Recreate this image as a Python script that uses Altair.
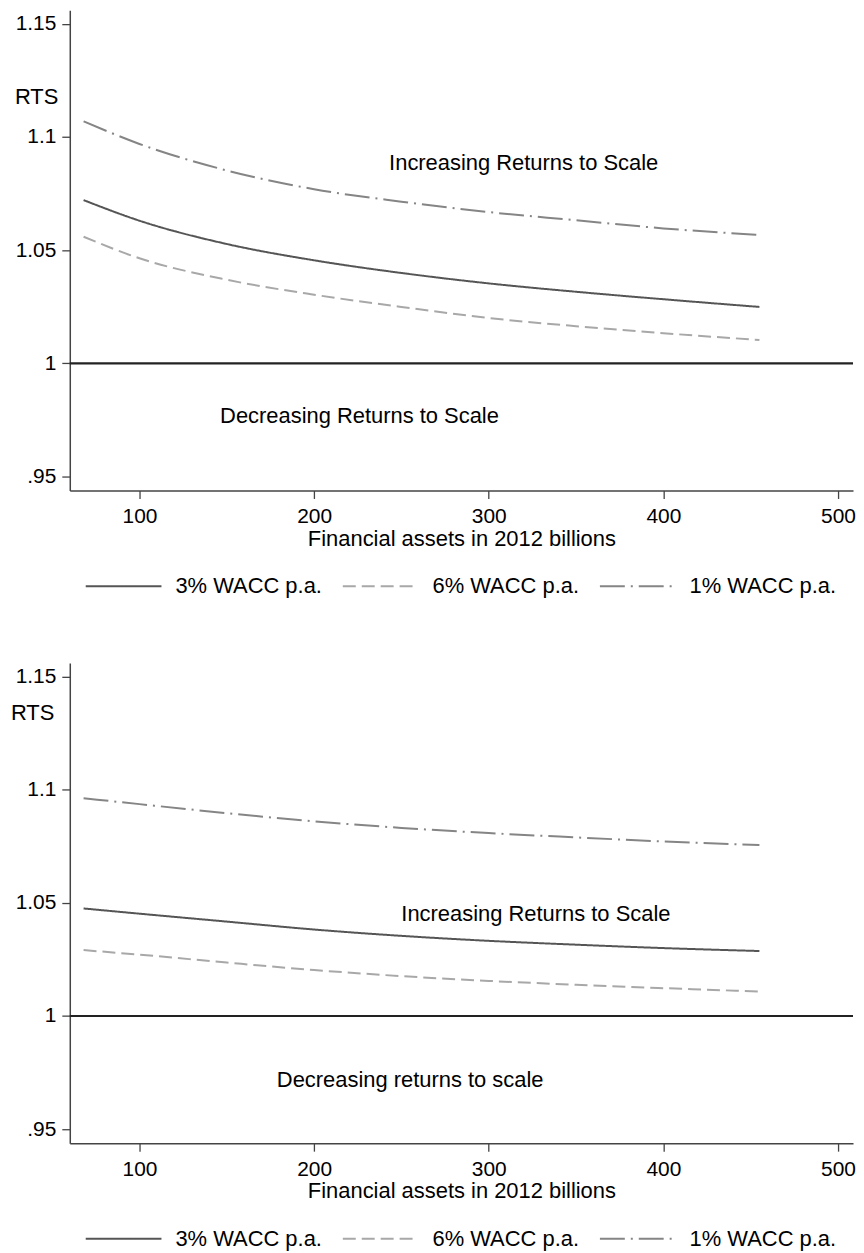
import pandas as pd
import altair as alt

# financial assets (2012 billions) where the curves were read
assets = [68, 100, 150, 200, 250, 300, 350, 400, 455]

# returns to scale, top panel
rts_3_top = [1.0721, 1.0630, 1.0527, 1.0455, 1.0399, 1.0353, 1.0316, 1.0283, 1.0249]
rts_6_top = [1.0559, 1.0464, 1.0369, 1.0303, 1.0249, 1.0200, 1.0164, 1.0133, 1.0103]
rts_1_top = [1.1069, 1.0969, 1.0852, 1.0769, 1.0714, 1.0668, 1.0632, 1.0596, 1.0567]

# returns to scale, bottom panel
rts_3_bot = [1.0475, 1.0452, 1.0417, 1.0382, 1.0354, 1.0332, 1.0315, 1.0300, 1.0287]
rts_6_bot = [1.0291, 1.0271, 1.0236, 1.0203, 1.0176, 1.0155, 1.0138, 1.0123, 1.0108]
rts_1_bot = [1.0962, 1.0936, 1.0896, 1.0860, 1.0831, 1.0808, 1.0789, 1.0771, 1.0755]

series = ["3% WACC p.a.", "6% WACC p.a.", "1% WACC p.a."]
x_ticks = [100, 200, 300, 400, 500]
y_ticks = [0.95, 1.0, 1.05, 1.1, 1.15]

# annotation texts and where they sit (data units)
notes_top = ["Increasing Returns to Scale", "Decreasing Returns to Scale"]
notes_top_x = [320, 226]
notes_top_y = [1.0885, 0.9768]
notes_bot = ["Increasing Returns to Scale", "Decreasing returns to scale"]
notes_bot_x = [327, 255]
notes_bot_y = [1.0449, 0.9717]

FONT = "Liberation Sans"
colors = ["#555555", "#a8a8a8", "#858585"]
dashes = [[1, 0], [13, 6], [25, 6, 2, 6]]


def panel(r3, r6, r1, note_text, note_x, note_y, rts_y, rts_x):
    df = pd.concat([
        pd.DataFrame({"assets": assets, "rts": vals, "series": name})
        for name, vals in zip(series, [r3, r6, r1])
    ])

    x = alt.X("assets:Q", scale=alt.Scale(domain=[60.1, 508.6], nice=False, zero=False),
              axis=alt.Axis(values=x_ticks, title="Financial assets in 2012 billions"))
    y = alt.Y("rts:Q", scale=alt.Scale(domain=[0.9438, 1.156], nice=False, zero=False),
              axis=alt.Axis(values=y_ticks, title="RTS", titleAngle=0, titleAlign="right",
                            titleBaseline="middle", titleX=rts_x, titleY=rts_y,
                            labelExpr="datum.value < 1 ? substring(format(datum.value, '.2f'), 1) : format(datum.value, '~g')"))

    lines = alt.Chart(df).mark_line(strokeWidth=2, interpolate="monotone").encode(
        x=x,
        y=y,
        color=alt.Color("series:N", scale=alt.Scale(domain=series, range=colors),
                        sort=series, legend=alt.Legend(title=None)),
        strokeDash=alt.StrokeDash("series:N", scale=alt.Scale(domain=series, range=dashes),
                                  sort=series, legend=alt.Legend(title=None)),
    )

    ref = alt.Chart(pd.DataFrame({"rts": [1.0]})).mark_rule(color="#222222", strokeWidth=2.2).encode(
        y="rts:Q"
    )

    notes = alt.Chart(pd.DataFrame({"assets": note_x, "rts": note_y, "label": note_text})).mark_text(
        font=FONT, fontSize=22, color="#000000", align="center", baseline="middle"
    ).encode(x="assets:Q", y="rts:Q", text="label:N")

    return (ref + lines + notes).properties(width=786, height=482)


top = panel(rts_3_top, rts_6_top, rts_1_top, notes_top, notes_top_x, notes_top_y, 87, -12)
bottom = panel(rts_3_bot, rts_6_bot, rts_1_bot, notes_bot, notes_bot_x, notes_bot_y, 50, -16)

chart = alt.vconcat(top, bottom, spacing=173, bounds="flush").resolve_legend(
    color="independent", strokeDash="independent"
).properties(
    padding={"left": 2, "top": 0, "right": 0, "bottom": 0}
).configure_view(
    stroke=None
).configure_axis(
    grid=False,
    domainColor="#444444",
    domainWidth=1.5,
    tickColor="#444444",
    tickWidth=1.3,
    tickSize=8,
    labelFont=FONT,
    labelFontSize=21,
    labelColor="#000000",
    labelPadding=6,
    titleFont=FONT,
    titleFontSize=22,
    titleFontWeight="normal",
    titleColor="#000000",
).configure_axisX(
    labelPadding=7,
    titlePadding=2,
).configure_legend(
    orient="none",
    legendX=15,
    legendY=539,
    direction="horizontal",
    columns=3,
    symbolType="stroke",
    symbolSize=5776,
    symbolStrokeWidth=2,
    labelFont=FONT,
    labelFontSize=22,
    labelColor="#000000",
    labelOffset=13,
    columnPadding=16,
)

chart.save("out.html", embed_options={"renderer": "svg", "actions": False})
